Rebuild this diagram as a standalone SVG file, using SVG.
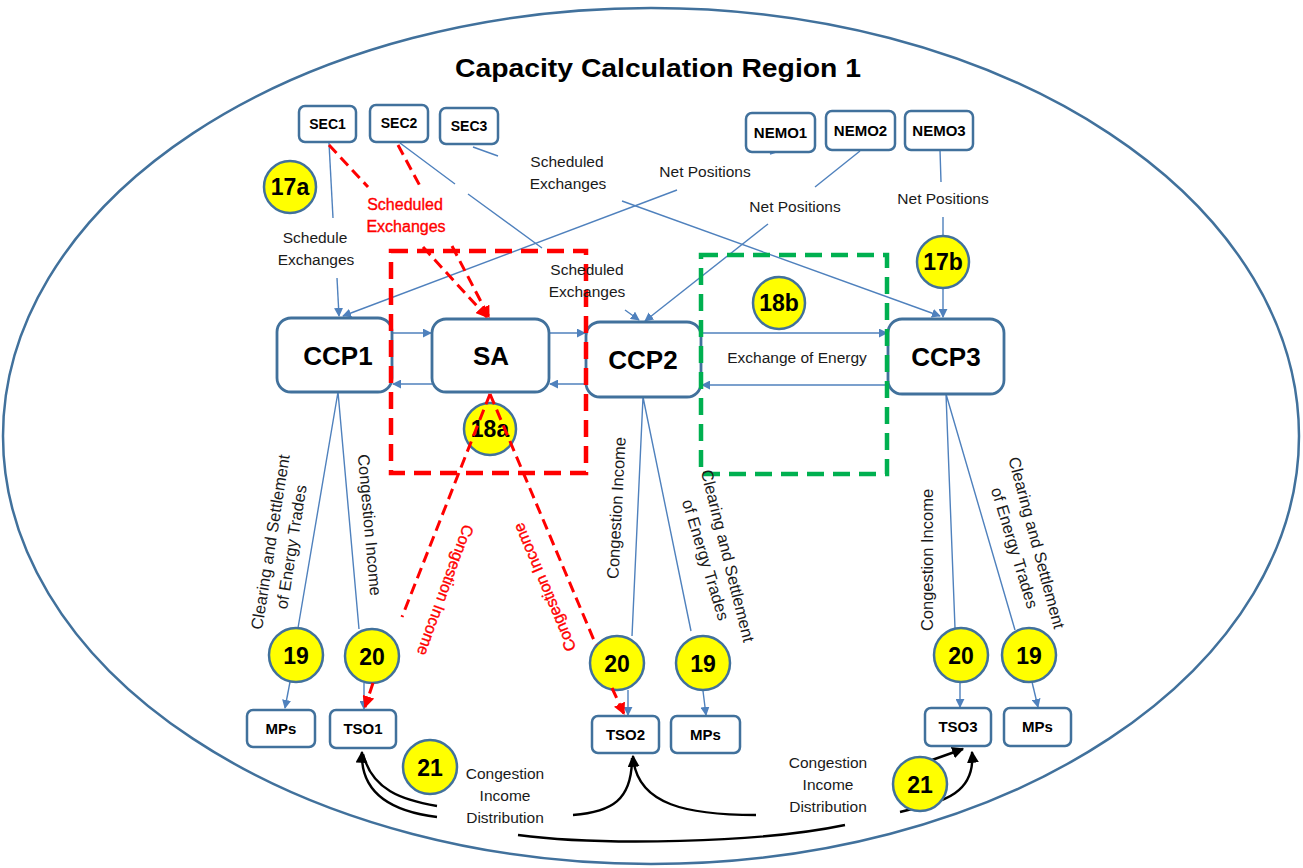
<svg xmlns="http://www.w3.org/2000/svg" width="1303" height="868" viewBox="0 0 1303 868">
  <style>
    .box { fill: #ffffff; stroke: #41719c; stroke-width: 2.5; }
    .big { fill: #ffffff; stroke: #41719c; stroke-width: 2.8; }
    .bt { font-family: "Liberation Sans", Arial, sans-serif; font-weight: bold; fill: #000; text-anchor: middle; }
    .lbl { font-family: "Liberation Sans", Arial, sans-serif; font-size: 15.5px; fill: #1a1a1a; text-anchor: middle; }
    .rot { font-size: 16.5px; }
    .red { fill: #ff0000; font-size: 16px; stroke: #ff0000; stroke-width: 0.35; }
    .num { fill: #ffff00; stroke: #41719c; stroke-width: 2.5; }
    .nt { font-family: "Liberation Sans", Arial, sans-serif; font-weight: bold; font-size: 23px; fill: #000; text-anchor: middle; }
    .bl { fill: none; stroke: #4f81bd; stroke-width: 1.4; }
    .rd { fill: none; stroke: #ff0000; stroke-width: 3; stroke-dasharray: 11 6; }
    .bk { fill: none; stroke: #000; stroke-width: 2.4; }
  </style>
  <defs>
    <marker id="ab" viewBox="0 0 10 10" refX="9" refY="5" markerWidth="9" markerHeight="9" markerUnits="userSpaceOnUse" orient="auto">
      <path d="M0,0 L10,5 L0,10 z" fill="#4f81bd"/>
    </marker>
    <marker id="ar" viewBox="0 0 10 10" refX="9" refY="5" markerWidth="12" markerHeight="12" markerUnits="userSpaceOnUse" orient="auto">
      <path d="M0,0 L10,5 L0,10 z" fill="#ff0000"/>
    </marker>
    <marker id="ak" viewBox="0 0 10 10" refX="9" refY="5" markerWidth="12" markerHeight="12" markerUnits="userSpaceOnUse" orient="auto">
      <path d="M0,0 L10,5 L0,10 z" fill="#000"/>
    </marker>
  </defs>

  <rect width="1303" height="868" fill="#ffffff"/>

  <!-- region boundary -->
  <ellipse cx="651" cy="436" rx="648" ry="428" fill="none" stroke="#41719c" stroke-width="2.5"/>
  <text x="658" y="77" class="bt" font-size="25" textLength="406" lengthAdjust="spacingAndGlyphs">Capacity Calculation Region 1</text>

  <g id="connectors">
    <!-- schedules from SECs -->
    <path class="bl" d="M329,143 L333,218"/>
    <path class="bl" d="M337,278 L339,316" marker-end="url(#ab)"/>
    <path class="bl" d="M400,143 L455,184 M468,194 L542,248"/>
    <path class="bl" d="M625,310 L639,320" marker-end="url(#ab)"/>
    <path class="bl" d="M473,147 L498,156"/>
    <path class="bl" d="M622,201 L940,316" marker-end="url(#ab)"/>
    <!-- net positions from NEMOs -->
    <path class="bl" d="M776,152 L770,154"/>
    <path class="bl" d="M677,190 L343,316" marker-end="url(#ab)"/>
    <path class="bl" d="M860,151 L815,187"/>
    <path class="bl" d="M768,224 L645,321" marker-end="url(#ab)"/>
    <path class="bl" d="M940,150 L941,182 M943,217 L943,236"/>
    <path class="bl" d="M943,288 L943,317" marker-end="url(#ab)"/>
    <!-- coupling between CCPs and SA -->
    <path class="bl" d="M392,333 L431,333" marker-end="url(#ab)"/>
    <path class="bl" d="M432,384 L393,384" marker-end="url(#ab)"/>
    <path class="bl" d="M549,333 L585,333" marker-end="url(#ab)"/>
    <path class="bl" d="M586,384 L550,384" marker-end="url(#ab)"/>
    <path class="bl" d="M701,333 L887,333" marker-end="url(#ab)"/>
    <path class="bl" d="M888,385 L702,385" marker-end="url(#ab)"/>
    <!-- CCP outputs -->
    <path class="bl" d="M338,392 L298,628 M338,392 L359,629"/>
    <path class="bl" d="M290,682 L285,708" marker-end="url(#ab)"/>
    <path class="bl" d="M364,683 L364,709" marker-end="url(#ab)"/>
    <path class="bl" d="M643,397 L632,636 M643,397 L691,631"/>
    <path class="bl" d="M628,690 L628,715" marker-end="url(#ab)"/>
    <path class="bl" d="M703,691 L706,715" marker-end="url(#ab)"/>
    <path class="bl" d="M946,394 L955,628 M946,394 L1015,630"/>
    <path class="bl" d="M960,682 L960,707" marker-end="url(#ab)"/>
    <path class="bl" d="M1032,682 L1038,707" marker-end="url(#ab)"/>
    <!-- congestion income distribution -->
    <path class="bk" d="M437,806 C402,800 372,790 363,754"/>
    <path class="bk" d="M437,817 C396,812 360,796 362,752" marker-end="url(#ak)"/>
    <path class="bk" d="M573,815 C612,812 632,800 632,758"/>
    <path class="bk" d="M756,815 C690,815 636,806 633,756" marker-end="url(#ak)"/>
    <path class="bk" d="M518,835 C600,846 760,843 845,825" stroke-width="3"/>
    <path class="bk" d="M932,760 L963,749" marker-end="url(#ak)"/>
    <path class="bk" d="M900,812 C940,802 976,796 972,752" marker-end="url(#ak)"/>
  </g>

  <!-- market participants and TSOs -->
  <g id="sec1"><rect class="box" x="299" y="106" width="57" height="36" rx="6"/><text class="bt" x="327.5" y="129" font-size="14">SEC1</text></g>
  <g id="sec2"><rect class="box" x="370" y="105" width="58" height="37" rx="6"/><text class="bt" x="399" y="128" font-size="14">SEC2</text></g>
  <g id="sec3"><rect class="box" x="440" y="108" width="58" height="36" rx="6"/><text class="bt" x="469" y="131" font-size="14">SEC3</text></g>
  <g id="nemo1"><rect class="box" x="746" y="113" width="69" height="39" rx="6"/><text class="bt" x="780.5" y="138" font-size="15">NEMO1</text></g>
  <g id="nemo2"><rect class="box" x="826" y="111" width="69" height="39" rx="6"/><text class="bt" x="860.5" y="136" font-size="15">NEMO2</text></g>
  <g id="nemo3"><rect class="box" x="905" y="111" width="68" height="39" rx="6"/><text class="bt" x="939" y="136" font-size="15">NEMO3</text></g>

  <g id="ccp1"><rect class="big" x="277" y="318" width="115" height="74" rx="14"/><text class="bt" x="338" y="365" font-size="26">CCP1</text></g>
  <g id="sa"><rect class="big" x="432" y="319" width="117" height="73" rx="14"/><text class="bt" x="491" y="365" font-size="26">SA</text></g>
  <g id="ccp2"><rect class="big" x="586" y="322" width="115" height="75" rx="14"/><text class="bt" x="643" y="369" font-size="26">CCP2</text></g>
  <g id="ccp3"><rect class="big" x="888" y="319" width="116" height="75" rx="14"/><text class="bt" x="946" y="366" font-size="26">CCP3</text></g>

  <g id="mps1"><rect class="box" x="247" y="710" width="68" height="37" rx="6"/><text class="bt" x="281" y="734" font-size="15">MPs</text></g>
  <g id="tso1"><rect class="box" x="330" y="710" width="66" height="38" rx="6"/><text class="bt" x="363" y="734" font-size="15">TSO1</text></g>
  <g id="tso2"><rect class="box" x="592" y="716" width="67" height="37" rx="6"/><text class="bt" x="625.5" y="740" font-size="15">TSO2</text></g>
  <g id="mps2"><rect class="box" x="671" y="716" width="69" height="37" rx="6"/><text class="bt" x="705.5" y="740" font-size="15">MPs</text></g>
  <g id="tso3"><rect class="box" x="925" y="708" width="66" height="38" rx="6"/><text class="bt" x="958" y="732" font-size="15">TSO3</text></g>
  <g id="mps3"><rect class="box" x="1004" y="708" width="67" height="38" rx="6"/><text class="bt" x="1037.5" y="732" font-size="15">MPs</text></g>

  <!-- step markers -->
  <g id="step17a"><circle class="num" cx="290" cy="187" r="26"/><text class="nt" x="290" y="195">17a</text></g>
  <g id="step17b"><circle class="num" cx="943" cy="262" r="26"/><text class="nt" x="943" y="270">17b</text></g>
  <g id="step18b"><circle class="num" cx="779" cy="303" r="26"/><text class="nt" x="779" y="311">18b</text></g>
  <g id="step18a"><circle class="num" cx="490" cy="429" r="26"/><text class="nt" x="490" y="437" font-weight="normal">18a</text></g>
  <g id="step19a"><circle class="num" cx="296" cy="655" r="27"/><text class="nt" x="296" y="664" font-size="24">19</text></g>
  <g id="step20a"><circle class="num" cx="372" cy="656" r="27"/><text class="nt" x="372" y="665" font-size="24">20</text></g>
  <g id="step20b"><circle class="num" cx="617" cy="663" r="27"/><text class="nt" x="617" y="672" font-size="24">20</text></g>
  <g id="step19b"><circle class="num" cx="703" cy="663" r="27"/><text class="nt" x="703" y="672" font-size="24">19</text></g>
  <g id="step20c"><circle class="num" cx="961" cy="655" r="27"/><text class="nt" x="961" y="664" font-size="24">20</text></g>
  <g id="step19c"><circle class="num" cx="1029" cy="655" r="27"/><text class="nt" x="1029" y="664" font-size="24">19</text></g>
  <g id="step21a"><circle class="num" cx="430" cy="767" r="27"/><text class="nt" x="430" y="776" font-size="24">21</text></g>
  <g id="step21b"><circle class="num" cx="920" cy="784" r="27"/><text class="nt" x="920" y="793" font-size="24">21</text></g>

  <!-- SA flows (dashed red) -->
  <g id="sa-flows">
    <path class="rd" d="M329,145 L368,187"/>
    <path class="rd" d="M423,247 L487,317" marker-end="url(#ar)"/>
    <path class="rd" d="M398,145 L420,186"/>
    <path class="rd" d="M452,246 L489,317" marker-end="url(#ar)"/>
    <path class="rd" d="M490,394 L402,617"/>
    <path class="rd" d="M373,683 L365,707" marker-end="url(#ar)"/>
    <path class="rd" d="M490,394 L596,645"/>
    <path class="rd" d="M612,688 L624,714" marker-end="url(#ar)"/>
  </g>

  <!-- coupling areas -->
  <rect x="391" y="251" width="195" height="222" fill="none" stroke="#ff0000" stroke-width="4.5" stroke-dasharray="17 9"/>
  <rect x="701" y="255" width="186" height="219" fill="none" stroke="#00b050" stroke-width="4.5" stroke-dasharray="17 9"/>

  <!-- labels -->
  <g id="labels">
    <text class="lbl" x="315" y="243">Schedule</text>
    <text class="lbl" x="316" y="265">Exchanges</text>
    <text class="lbl red" x="405" y="210">Scheduled</text>
    <text class="lbl red" x="406" y="232">Exchanges</text>
    <text class="lbl" x="567" y="167">Scheduled</text>
    <text class="lbl" x="568" y="189">Exchanges</text>
    <text class="lbl" x="587" y="275">Scheduled</text>
    <text class="lbl" x="587" y="297">Exchanges</text>
    <text class="lbl" x="705" y="177">Net Positions</text>
    <text class="lbl" x="795" y="212">Net Positions</text>
    <text class="lbl" x="943" y="204">Net Positions</text>
    <text class="lbl" x="797" y="363" font-size="13.5">Exchange of Energy</text>

    <text class="lbl rot" transform="translate(271,542) rotate(-81)" y="5">Clearing and Settlement</text>
    <text class="lbl rot" transform="translate(292,547) rotate(-81)" y="5">of Energy Trades</text>
    <text class="lbl rot" transform="translate(369,525) rotate(85)" y="5">Congestion Income</text>
    <text class="lbl rot red" transform="translate(445,590) rotate(110)" y="5">Congestion Income</text>
    <text class="lbl rot red" transform="translate(545,587) rotate(-113)" y="5">Congestion Income</text>
    <text class="lbl rot" transform="translate(617,508) rotate(-87)" y="5">Congestion Income</text>
    <text class="lbl rot" transform="translate(727,556) rotate(76)" y="5">Clearing and Settlement</text>
    <text class="lbl rot" transform="translate(705,560) rotate(73)" y="5">of Energy Trades</text>
    <text class="lbl rot" transform="translate(928,560) rotate(-90)" y="5">Congestion Income</text>
    <text class="lbl rot" transform="translate(1036,543) rotate(75)" y="5">Clearing and Settlement</text>
    <text class="lbl rot" transform="translate(1014,548) rotate(73)" y="5">of Energy Trades</text>

    <text class="lbl" x="505" y="779" font-size="16">Congestion</text>
    <text class="lbl" x="505" y="801" font-size="16">Income</text>
    <text class="lbl" x="505" y="823" font-size="16">Distribution</text>
    <text class="lbl" x="828" y="768" font-size="16">Congestion</text>
    <text class="lbl" x="828" y="790" font-size="16">Income</text>
    <text class="lbl" x="828" y="812" font-size="16">Distribution</text>
  </g>
</svg>
